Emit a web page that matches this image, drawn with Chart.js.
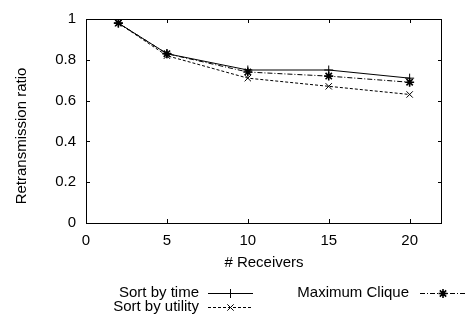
<!DOCTYPE html>
<html>
<head>
<meta charset="utf-8">
<script src="https://cdn.jsdelivr.net/npm/chart.js@4/dist/chart.umd.min.js"></script>
<style>
html,body{margin:0;padding:0;background:#fff;}
#wrap{width:466px;height:316px;position:relative;}
</style>
</head>
<body>
<div id="wrap"><canvas id="c" width="466" height="316"></canvas></div>
<script>
const receivers = [2, 5, 10, 15, 20];
const sortByTime = [0.98, 0.83, 0.75, 0.75, 0.71];
const sortByUtility = [0.98, 0.82, 0.71, 0.67, 0.63];
const maximumClique = [0.98, 0.83, 0.74, 0.72, 0.69];
const xTicks = [0, 5, 10, 15, 20];
const yTicks = [0, 0.2, 0.4, 0.6, 0.8, 1];
const xTitle = '# Receivers';
const yTitle = 'Retransmission ratio';
const seriesNames = ['Sort by time', 'Sort by utility', 'Maximum Clique'];

const FONT = '15px "Liberation Sans", Arial, sans-serif';
const pts = (ys) => receivers.map((x, i) => ({x: x, y: ys[i]}));

const styles = [
  {dash: [], point: 'cross', pw: 1},
  {dash: [3, 2], point: 'crossRot', pw: 1},
  {dash: [5, 2, 1, 2], point: 'star', pw: 1.6}
];
const seriesData = [sortByTime, sortByUtility, maximumClique];

const datasets = seriesData.map((d, i) => ({
  label: seriesNames[i],
  data: pts(d),
  borderColor: '#000',
  backgroundColor: '#000',
  borderWidth: 1,
  borderDash: styles[i].dash,
  pointStyle: styles[i].point,
  pointRadius: 4.5,
  pointBorderWidth: styles[i].pw,
  pointBorderColor: '#000',
  tension: 0,
  fill: false
}));

function drawMarker(ctx, style, x, y, r, w) {
  ctx.save();
  ctx.setLineDash([]);
  ctx.lineWidth = w;
  ctx.strokeStyle = '#000';
  ctx.beginPath();
  if (style === 'cross' || style === 'star') {
    ctx.moveTo(x - r, y); ctx.lineTo(x + r, y);
    ctx.moveTo(x, y - r); ctx.lineTo(x, y + r);
  }
  if (style === 'crossRot' || style === 'star') {
    const d = r * Math.SQRT1_2;
    ctx.moveTo(x - d, y - d); ctx.lineTo(x + d, y + d);
    ctx.moveTo(x - d, y + d); ctx.lineTo(x + d, y - d);
  }
  ctx.stroke();
  ctx.restore();
}

const frame = {
  id: 'frame',
  afterDraw(chart) {
    const ctx = chart.ctx;
    const a = chart.chartArea;
    const xs = chart.scales.x, ys = chart.scales.y;
    ctx.save();
    ctx.strokeStyle = '#000';
    ctx.lineWidth = 1;
    ctx.setLineDash([]);
    // box
    ctx.strokeRect(Math.round(a.left) + 0.5, Math.round(a.top) + 0.5,
      Math.round(a.right - a.left) - 1, Math.round(a.bottom - a.top));
    // inward ticks
    const tl = 4;
    ctx.beginPath();
    xs.ticks.forEach(t => {
      const px = Math.round(xs.getPixelForValue(t.value)) + 0.5;
      ctx.moveTo(px, a.bottom); ctx.lineTo(px, a.bottom - tl);
      ctx.moveTo(px, a.top); ctx.lineTo(px, a.top + tl);
    });
    ys.ticks.forEach(t => {
      const py = Math.round(ys.getPixelForValue(t.value)) + 0.5;
      ctx.moveTo(a.left, py); ctx.lineTo(a.left + tl, py);
      ctx.moveTo(a.right, py); ctx.lineTo(a.right - tl, py);
    });
    ctx.stroke();
    // titles
    ctx.fillStyle = '#000';
    ctx.font = FONT;
    ctx.textAlign = 'center';
    ctx.textBaseline = 'middle';
    ctx.fillText(xTitle, (a.left + a.right) / 2, 263);
    ctx.save();
    ctx.translate(22, 136);
    ctx.rotate(-Math.PI / 2);
    ctx.fillText(yTitle, 0, 0);
    ctx.restore();
    // legend
    const entries = [
      {tx: 199, y: 293, lx0: 208, lx1: 253},
      {tx: 199, y: 307, lx0: 208, lx1: 253},
      {tx: 409, y: 293, lx0: 420, lx1: 466}
    ];
    entries.forEach((e, i) => {
      ctx.textAlign = 'right';
      ctx.fillText(seriesNames[i], e.tx, e.y);
      ctx.setLineDash(styles[i].dash);
      ctx.beginPath();
      ctx.moveTo(e.lx0, Math.round(e.y) + 0.5);
      ctx.lineTo(e.lx1, Math.round(e.y) + 0.5);
      ctx.stroke();
      ctx.setLineDash([]);
      drawMarker(ctx, styles[i].point, (e.lx0 + e.lx1) / 2, Math.round(e.y) + 0.5, 4.5, styles[i].pw);
    });
    ctx.restore();
  }
};

new Chart(document.getElementById('c'), {
  type: 'line',
  data: {datasets: datasets},
  options: {
    responsive: false,
    animation: false,
    devicePixelRatio: 1,
    layout: {padding: {top: 12, right: 24, left: 0, bottom: 0}},
    plugins: {legend: {display: false}, tooltip: {enabled: false}},
    scales: {
      x: {
        type: 'linear',
        min: 0, max: 22,
        afterFit(s) { s.height = 93; },
        afterBuildTicks(s) { s.ticks = xTicks.map(v => ({value: v})); },
        grid: {display: false, drawTicks: false},
        border: {display: false},
        ticks: {color: '#000', font: {family: '"Liberation Sans", Arial, sans-serif', size: 15}, padding: 9, maxRotation: 0, autoSkip: false}
      },
      y: {
        type: 'linear',
        min: 0, max: 1,
        afterFit(s) { s.width = 86; },
        afterBuildTicks(s) { s.ticks = yTicks.map(v => ({value: v})); },
        grid: {display: false, drawTicks: false},
        border: {display: false},
        ticks: {color: '#000', font: {family: '"Liberation Sans", Arial, sans-serif', size: 15}, padding: 10, autoSkip: false,
          callback: v => String(+v.toFixed(1))}
      }
    }
  },
  plugins: [frame]
});
</script>
</body>
</html>
